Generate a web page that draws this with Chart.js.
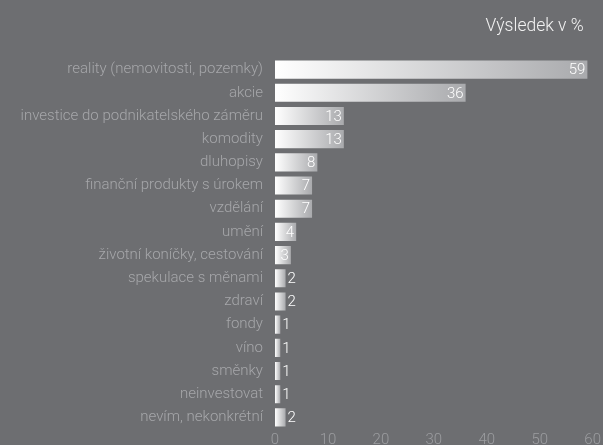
<!DOCTYPE html>
<html>
<head>
<meta charset="utf-8">
<script src="https://cdn.jsdelivr.net/npm/chart.js@4/dist/chart.umd.min.js"></script>
<style>
  html, body { margin: 0; padding: 0; background: #6d6e71; }
  canvas { display: block; }
</style>
</head>
<body>
<canvas id="chart" width="603" height="445"></canvas>
<script>
const categories = [
    'reality (nemovitosti, pozemky)',
    'akcie',
    'investice do podnikatelského záměru',
    'komodity',
    'dluhopisy',
    'finanční produkty s úrokem',
    'vzdělání',
    'umění',
    'životní koníčky, cestování',
    'spekulace s měnami',
    'zdraví',
    'fondy',
    'víno',
    'směnky',
    'neinvestovat',
    'nevím, nekonkrétní'
];
const values = [59, 36, 13, 13, 8, 7, 7, 4, 3, 2, 2, 1, 1, 1, 1, 2];
const xTicks = [0, 10, 20, 30, 40, 50, 60];
const titleText = 'Výsledek v %';

const FONT = 'Roboto, "DejaVu Sans", sans-serif';

// gradient per bar, white at zero to grey at the bar end
function barFill(ctx) {
    const chart = ctx.chart;
    const x = chart.scales.x;
    if (ctx.type !== 'data' || !x) return '#c8c9cb';
    const x0 = x.getPixelForValue(0);
    const x1 = x.getPixelForValue(ctx.raw);
    if (!isFinite(x0) || !isFinite(x1)) return '#c8c9cb';
    const g = chart.ctx.createLinearGradient(x0, 0, Math.max(x1, x0 + 1), 0);
    g.addColorStop(0, '#ffffff');
    g.addColorStop(1, '#a9aaad');
    return g;
}

const valueLabels = {
    id: 'valueLabels',
    afterDatasetsDraw(chart) {
        const c = chart.ctx;
        const meta = chart.getDatasetMeta(0);
        c.save();
        c.font = '300 15px ' + FONT;
        c.fillStyle = '#ffffff';
        c.textBaseline = 'middle';
        meta.data.forEach((bar, i) => {
            const v = values[i];
            if (v >= 3) {
                c.textAlign = 'right';
                c.fillText(String(v), bar.x - 2, bar.y + 1);
            } else {
                c.textAlign = 'left';
                c.fillText(String(v), bar.x + 2, bar.y + 1);
            }
        });
        c.restore();
    }
};

// title in the top right corner
const cornerTitle = {
    id: 'cornerTitle',
    afterDraw(chart) {
        const c = chart.ctx;
        c.save();
        c.font = '300 17.5px ' + FONT;
        c.fillStyle = '#f2f2f2';
        c.textAlign = 'right';
        c.textBaseline = 'middle';
        c.fillText(titleText, chart.chartArea.right - 9, 27);
        c.restore();
    }
};

const chart = new Chart(document.getElementById('chart'), {
    type: 'bar',
    data: {
        labels: categories,
        datasets: [{
            data: values,
            backgroundColor: barFill,
            borderWidth: 0,
            barPercentage: 0.78,
            categoryPercentage: 1
        }]
    },
    options: {
        indexAxis: 'y',
        responsive: false,
        animation: false,
        layout: { padding: { left: 0, right: 9, top: 58, bottom: -3 } },
        plugins: {
            legend: { display: false },
            tooltip: { enabled: false },
            title: { display: false }
        },
        scales: {
            x: {
                min: 0,
                max: 60,
                afterBuildTicks(scale) {
                    scale.ticks = xTicks.map(v => ({ value: v }));
                },
                afterFit(scale) { scale.height = 19; },
                grid: { display: false, drawTicks: false },
                border: { display: false },
                ticks: {
                    color: '#9c9da0',
                    font: { family: FONT, size: 15, weight: '300' },
                    padding: 2
                }
            },
            y: {
                grid: { display: false, drawTicks: false },
                border: { display: false },
                afterFit(scale) {
                    scale.width = 275;
                    scale.paddingTop = 0;
                    scale.paddingBottom = 0;
                },
                ticks: {
                    color: '#a6a7aa',
                    font: { family: FONT, size: 15, weight: '300' },
                    padding: 12,
                    autoSkip: false
                }
            }
        }
    },
    plugins: [valueLabels, cornerTitle]
});
// second pass so the gradients use the laid-out scale
chart.update();
</script>
</body>
</html>
